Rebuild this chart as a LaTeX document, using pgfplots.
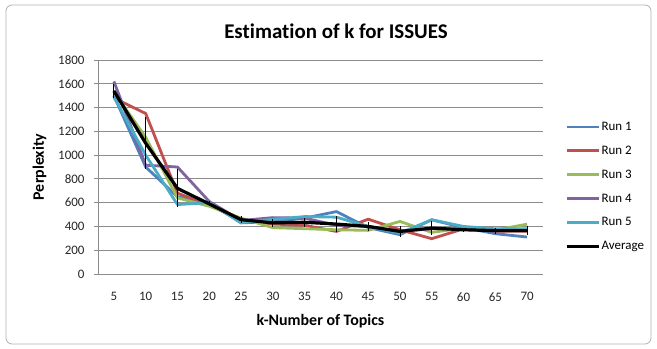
\documentclass[border=0pt]{standalone}
\usepackage{pgfplots}
\pgfplotsset{compat=1.18}
\usepackage{fontspec}
\setmainfont{Carlito}[Ligatures=NoCommon]
\definecolor{r1}{HTML}{4F81BD}
\definecolor{r2}{HTML}{C0504D}
\definecolor{r3}{HTML}{9BBB59}
\definecolor{r4}{HTML}{8064A2}
\definecolor{r5}{HTML}{4BACC6}
\definecolor{gridc}{HTML}{8C8C8C}
\begin{document}
\begin{tikzpicture}
\path[use as bounding box] (0,0) rectangle (657bp,349bp);
\draw[gray!60, line width=0.8bp, rounded corners=6bp] (6bp,5bp) rectangle (651bp,344bp);
\node[font=\bfseries\fontsize{21}{24}\selectfont] at (336bp,318bp) {Estimation of k for ISSUES};
\begin{axis}[
  at={(98bp,75bp)}, anchor=south west,
  scale only axis, width=445bp, height=214bp,
  xmin=2.5, xmax=72.5, ymin=0, ymax=1800,
  xtick={5,10,...,70},
  ytick={0,200,...,1800},
  axis x line=bottom, axis y line=left,
  axis line style={gridc, -},
  ymajorgrids, grid style={gridc, line width=0.8bp},
  x tick style={draw=none},
  y tick style={gridc, line width=0.8bp},
  major tick length=4bp,
  tick align=outside,
  tick label style={font=\fontsize{13}{15}\selectfont, black!85},
  yticklabel style={xshift=-6bp},
  xticklabel style={yshift=-11bp},
  /pgf/number format/assume math mode=true,
  yticklabel style={/pgf/number format/.cd, 1000 sep={}},
  xlabel={\bfseries k-Number of Topics},
  ylabel={\bfseries Perplexity},
  label style={font=\bfseries\fontsize{16}{18}\selectfont},
  xlabel style={yshift=-6bp},
  ylabel style={yshift=5bp},
  legend style={at={(1.05,0.72)}, anchor=north west, draw=none, fill=none,
    font=\fontsize{13}{15}\selectfont, row sep=10bp,
    legend cell align=left, inner sep=0pt,
    nodes={inner xsep=1bp}},
  legend image code/.code={\draw[#1] (0bp,0bp) -- (32bp,0bp);},
  every axis plot/.append style={line width=2.8bp, line join=round},
]
\addplot[r1] coordinates {(5,1500)(10,900)(15,650)(20,600)(25,430)(30,440)(35,470)(40,525)(45,390)(50,331)(55,456)(60,390)(65,339)(70,311)};
\addlegendentry{Run 1}
\addplot[r2] coordinates {(5,1480)(10,1350)(15,680)(20,580)(25,450)(30,420)(35,410)(40,358)(45,461)(50,372)(55,297)(60,380)(65,360)(70,360)};
\addlegendentry{Run 2}
\addplot[r3] coordinates {(5,1530)(10,1150)(15,640)(20,570)(25,470)(30,390)(35,381)(40,372)(45,367)(50,442)(55,350)(60,386)(65,370)(70,419)};
\addlegendentry{Run 3}
\addplot[r4] coordinates {(5,1620)(10,915)(15,900)(20,610)(25,450)(30,474)(35,470)(40,410)(45,400)(50,360)(55,380)(60,380)(65,360)(70,370)};
\addlegendentry{Run 4}
\addplot[r5] coordinates {(5,1490)(10,1000)(15,584)(20,600)(25,432)(30,460)(35,483)(40,478)(45,400)(50,345)(55,456)(60,400)(65,380)(70,380)};
\addlegendentry{Run 5}
\addplot[black, line width=3.2bp,
  error bars/.cd, y dir=both, y explicit, error mark=none,
  error bar style={black, line width=0.8bp}]
  coordinates {
  (5,1540) +- (0,60)
  (10,1100) +- (0,220)
  (15,720) +- (0,160)
  (20,590) +- (0,20)
  (25,457) +- (0,30)
  (30,430) +- (0,35)
  (35,435) +- (0,40)
  (40,420) +- (0,70)
  (45,400) +- (0,40)
  (50,358) +- (0,45)
  (55,386) +- (0,60)
  (60,372) +- (0,15)
  (65,365) +- (0,25)
  (70,365) +- (0,40)};
\addlegendentry{Average}
\end{axis}
\end{tikzpicture}
\end{document}
